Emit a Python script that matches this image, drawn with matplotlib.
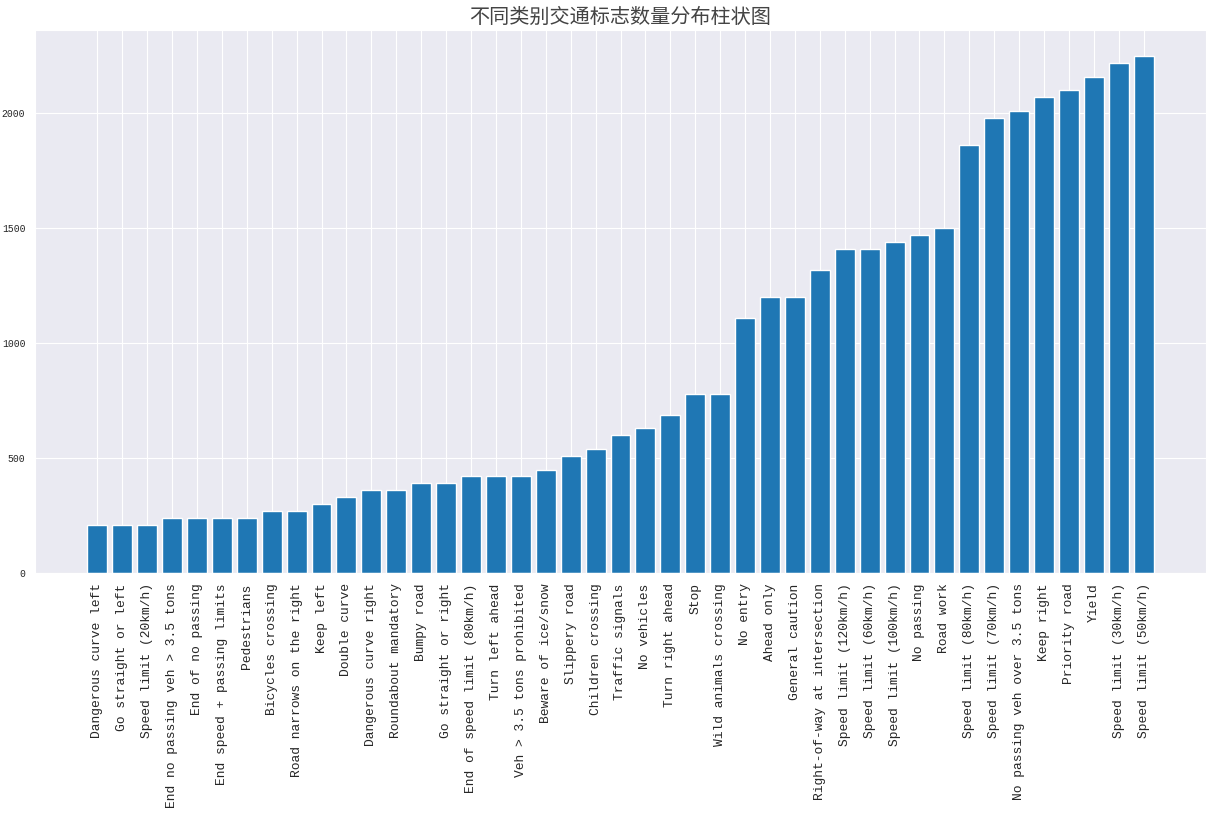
import matplotlib
matplotlib.use('Agg')
import matplotlib.pyplot as plt
import seaborn as sns

# Sign classes, sorted by number of samples
sign_names = [
    'Dangerous curve left', 'Go straight or left', 'Speed limit (20km/h)',
    'End no passing veh > 3.5 tons', 'End of no passing', 'End speed + passing limits',
    'Pedestrians', 'Bicycles crossing', 'Road narrows on the right', 'Keep left',
    'Double curve', 'Dangerous curve right', 'Roundabout mandatory', 'Bumpy road',
    'Go straight or right', 'End of speed limit (80km/h)', 'Turn left ahead',
    'Veh > 3.5 tons prohibited', 'Beware of ice/snow', 'Slippery road',
    'Children crossing', 'Traffic signals', 'No vehicles', 'Turn right ahead',
    'Stop', 'Wild animals crossing', 'No entry', 'Ahead only', 'General caution',
    'Right-of-way at intersection', 'Speed limit (120km/h)', 'Speed limit (60km/h)',
    'Speed limit (100km/h)', 'No passing', 'Road work', 'Speed limit (80km/h)',
    'Speed limit (70km/h)', 'No passing veh over 3.5 tons', 'Keep right',
    'Priority road', 'Yield', 'Speed limit (30km/h)', 'Speed limit (50km/h)',
]
sign_counts = [
    210, 210, 210, 240, 240, 240, 240, 270, 270, 300,
    330, 360, 360, 390, 390, 420, 420, 420, 450, 510,
    540, 600, 630, 689, 780, 780, 1110, 1200, 1200, 1320,
    1410, 1410, 1440, 1470, 1500, 1860, 1980, 2010, 2070, 2100,
    2160, 2220, 2250,
]
title = '不同类别交通标志数量分布柱状图'

sns.set_style('darkgrid')
plt.rcParams['font.family'] = ['Liberation Mono', 'Noto Sans CJK SC', 'DejaVu Sans']

fig = plt.figure(figsize=(12.13, 8.19), dpi=100)
ax = fig.add_axes([35 / 1213, 1 - 573 / 819, (1206 - 35) / 1213, (573 - 30) / 819])

ax.bar(range(len(sign_names)), sign_counts, width=0.8, color='#1f77b4', edgecolor='white')
ax.set_xticks(range(len(sign_names)))
ax.set_xticklabels(sign_names, rotation=90, fontsize=9.4)
ax.tick_params(axis='y', labelsize=7)
ax.tick_params(axis='x', pad=4)
ax.set_xlim(-2.5, len(sign_names) + 1.5)
ax.set_title(title, fontsize=14.5, color='#444444', pad=5)

plt.savefig('out.png', dpi=100)
